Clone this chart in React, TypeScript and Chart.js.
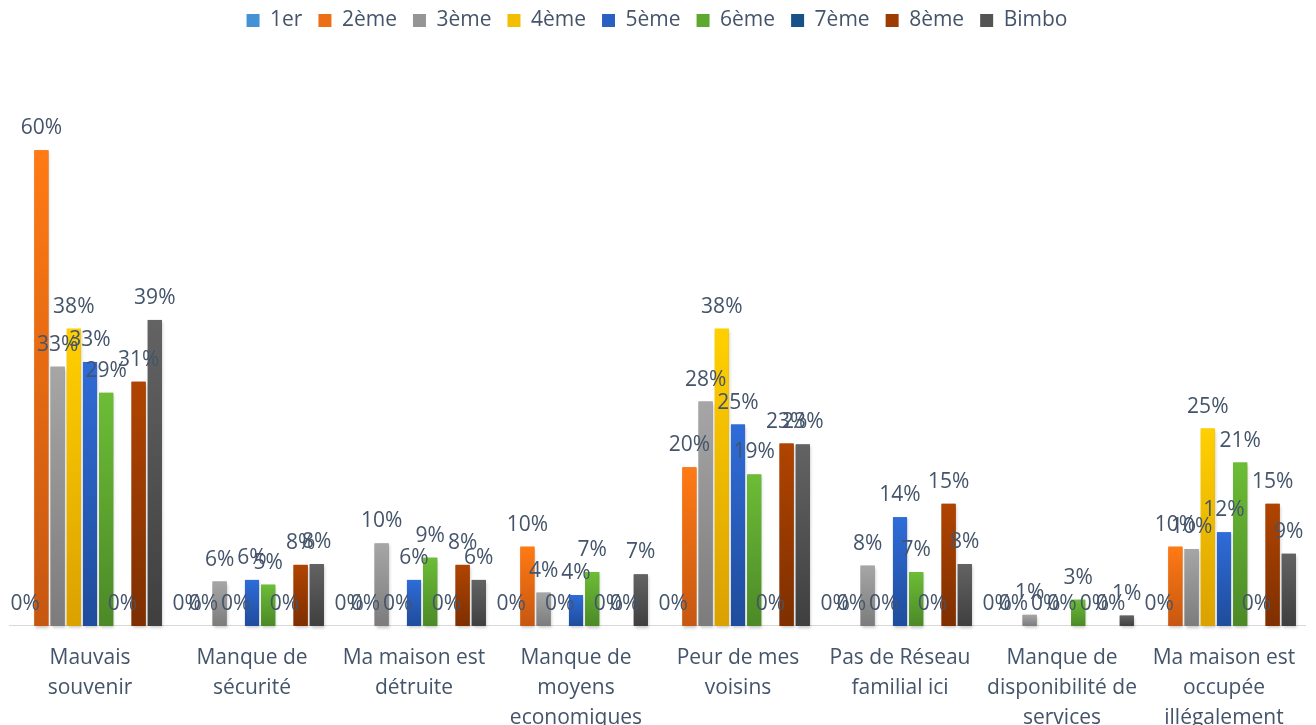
import React, { useEffect, useRef } from 'react';
import { Chart, registerables } from 'chart.js';

Chart.register(...registerables);

const categories: (string | string[])[] = [
  ['Mauvais', 'souvenir'],
  ['Manque de', 'sécurité'],
  ['Ma maison est', 'détruite'],
  ['Manque de', 'moyens', 'economiques'],
  ['Peur de mes', 'voisins'],
  ['Pas de Réseau', 'familial ici'],
  ['Manque de', 'disponibilité de', 'services'],
  ['Ma maison est', 'occupée', 'illégalement'],
];

const seriesNames = ['1er', '2ème', '3ème', '4ème', '5ème', '6ème', '7ème', '8ème', 'Bimbo'];

const v1er = [0, 0, 0, 0, 0, 0, 0, 0];
const v2eme = [60, 0, 0, 10, 20, 0, 0, 10];
const v3eme = [32.7, 5.6, 10.4, 4.2, 28.3, 7.6, 1.4, 9.7];
const v4eme = [37.5, 0, 0, 0, 37.5, 0, 0, 24.9];
const v5eme = [33.3, 5.8, 5.8, 3.9, 25.4, 13.7, 0, 11.8];
const v6eme = [29.4, 5.2, 8.6, 6.8, 19.1, 6.8, 3.3, 20.6];
const v7eme = [0, 0, 0, 0, 0, 0, 0, 0];
const v8eme = [30.8, 7.7, 7.7, 0, 23.0, 15.4, 0, 15.4];
const vBimbo = [38.6, 7.8, 5.8, 6.5, 22.9, 7.8, 1.3, 9.1];

const seriesValues = [v1er, v2eme, v3eme, v4eme, v5eme, v6eme, v7eme, v8eme, vBimbo];

// [top colour, bottom colour, legend colour]
const seriesColors: [string, string, string][] = [
  ['#4FA0E0', '#3479BD', '#4591D6'],
  ['#FF7A14', '#C65711', '#EC6E15'],
  ['#A6A6A6', '#7C7C7C', '#959595'],
  ['#FFD000', '#DBA100', '#F4BE00'],
  ['#2F6CD8', '#1F4C9C', '#2A60C2'],
  ['#6CBD36', '#4C8927', '#5EA82F'],
  ['#1D5B98', '#10406F', '#185187'],
  ['#B04400', '#7E2F00', '#9C3C00'],
  ['#636363', '#3F3F3F', '#545454'],
];

const FONT = '"Open Sans", "DejaVu Sans", sans-serif';
const TEXT = '#44546A';

const legendMargin = {
  id: 'legendMargin',
  beforeInit(chart: any) {
    if (!chart.legend) return;
    const orig = chart.legend.fit;
    chart.legend.fit = function fit() {
      orig.bind(chart.legend)();
      this.height += 30;
    };
  },
};

const gradientBars = {
  id: 'gradientBars',
  afterDatasetsDraw(chart: any) {
    const ctx = chart.ctx;
    chart.data.datasets.forEach((ds: any, di: number) => {
      const meta = chart.getDatasetMeta(di);
      if (meta.hidden) return;
      const [top, bottom] = seriesColors[di];
      meta.data.forEach((el: any) => {
        const { x, y, base, width } = el.getProps(['x', 'y', 'base', 'width'], true);
        const h = base - y;
        if (h < 0.5) return;
        ctx.save();
        ctx.shadowColor = 'rgba(0,0,0,0.22)';
        ctx.shadowBlur = 3;
        ctx.shadowOffsetX = 1;
        ctx.shadowOffsetY = 2;
        const g = ctx.createLinearGradient(0, y, 0, base);
        g.addColorStop(0, top);
        g.addColorStop(1, bottom);
        ctx.fillStyle = g;
        ctx.fillRect(x - width / 2, y, width, h);
        ctx.restore();
      });
    });
    // data labels
    ctx.save();
    ctx.font = `21px ${FONT}`;
    ctx.fillStyle = TEXT;
    ctx.textAlign = 'center';
    ctx.textBaseline = 'alphabetic';
    chart.data.datasets.forEach((ds: any, di: number) => {
      const meta = chart.getDatasetMeta(di);
      if (meta.hidden) return;
      meta.data.forEach((el: any, i: number) => {
        const { x, y } = el.getProps(['x', 'y'], true);
        const v = ds.data[i];
        ctx.fillText(`${Math.round(v)}%`, x, y - 16);
      });
    });
    ctx.restore();
  },
};

export default function App() {
  const ref = useRef<HTMLCanvasElement | null>(null);
  useEffect(() => {
    if (!ref.current) return;
    const chart = new Chart(ref.current, {
      type: 'bar',
      data: {
        labels: categories,
        datasets: seriesNames.map((name, i) => ({
          label: name,
          data: seriesValues[i],
          backgroundColor: seriesColors[i][2],
          borderWidth: 0,
          categoryPercentage: 0.9,
          barPercentage: 0.87,
        })),
      },
      options: {
        animation: false,
        responsive: true,
        maintainAspectRatio: false,
        layout: { padding: { left: 9, right: 11, top: -6, bottom: 0 } },
        plugins: {
          legend: {
            position: 'top',
            labels: {
              boxWidth: 13,
              boxHeight: 13,
              padding: 16,
              color: TEXT,
              font: { family: FONT, size: 21 },
            },
          },
          tooltip: { enabled: false },
        },
        scales: {
          x: {
            grid: { display: false, drawTicks: false },
            border: { display: true, color: '#D9D9D9', width: 1 },
            ticks: {
              color: TEXT,
              font: { family: FONT, size: 21, lineHeight: 1.43 },
              padding: 17,
              maxRotation: 0,
              autoSkip: false,
            },
          },
          y: {
            display: false,
            min: 0,
            max: 70,
          },
        },
      },
      plugins: [legendMargin, gradientBars],
    });
    return () => chart.destroy();
  }, []);
  return (
    <div style={{ position: 'fixed', left: 0, top: 0, width: 1316, height: 725, overflow: 'hidden', background: '#fff' }}>
      <div style={{ position: 'relative', width: 1316, height: 750 }}>
        <canvas ref={ref} />
      </div>
    </div>
  );
}
